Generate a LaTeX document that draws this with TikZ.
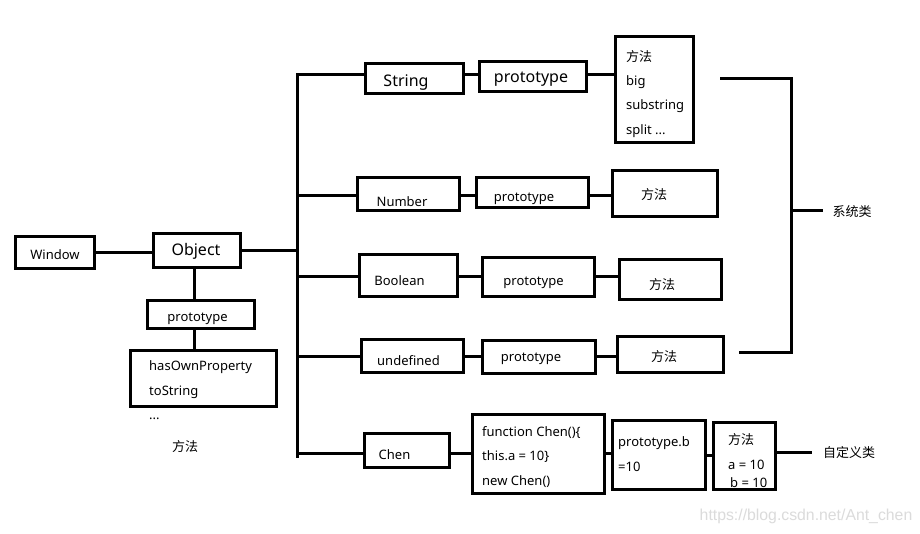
\documentclass[tikz,border=0pt]{standalone}
\usepackage{fontspec}
\setmainfont{Noto Sans}
\newfontfamily\cjk{Noto Sans CJK SC}
\newfontfamily\wmfont{Liberation Sans}
\begin{document}
\begin{tikzpicture}[x=1pt,y=-1pt,
  bx/.style 2 args={draw, line width=3pt, minimum width=#1pt, minimum height=#2pt, inner sep=0pt},
  ln/.style={line width=3pt},
  t/.style={inner sep=0pt, yshift=-1.5pt, font=\fontsize{13}{15}\selectfont},
  tl/.style={t, anchor=west},
  tb/.style={inner sep=0pt, yshift=-1.5pt, font=\fontsize{16}{18}\selectfont},
  ct/.style={inner sep=0pt, yshift=-1pt, font=\cjk\fontsize{13}{15}\selectfont},
  ctl/.style={ct, anchor=west}]
\useasboundingbox (0,0) rectangle (920,534);
\fill[white] (0,0) rectangle (920,534);

% boxes
\node[bx={79}{32}]  (win)    at (54.5,253) {};
\node[bx={87}{34}]  (obj)    at (196.5,251) {};
\node[bx={107}{27}] (oproto) at (200.5,314.5) {};
\node[bx={146}{56}] (omb)    at (203,378) {};

\node[bx={98}{30}]  (str)    at (414,79) {};
\node[bx={107}{30}] (sproto) at (532.5,77) {};
\node[bx={78}{106}] (smb)    at (654,90) {};

\node[bx={102}{33}] (num)    at (408,194.5) {};
\node[bx={112}{30}] (nproto) at (532,193) {};
\node[bx={105}{46}] (nmb)    at (664.5,194) {};

\node[bx={98}{42}]  (bool)   at (408,276) {};
\node[bx={112}{39}] (bproto) at (538,277.5) {};
\node[bx={102}{40}] (bmb)    at (670,280) {};

\node[bx={102}{33}] (und)    at (412,355.5) {};
\node[bx={113}{33}] (uproto) at (538.5,356.5) {};
\node[bx={106}{36}] (umb)    at (670,354) {};

\node[bx={85}{34}]  (chen)   at (406.5,450) {};
\node[bx={132}{79}] (fn)     at (538,453.5) {};
\node[bx={93}{69}]  (pb)     at (658.5,454.5) {};
\node[bx={62}{67}]  (cm)     at (744,455.5) {};

% texts
\node[t]  (twin)  at (55,253) {Window};
\node[tb] (tobj)  at (196,250) {Object};
\node[t]  (top)   at (197.5,317) {prototype};
\node[tl] (th1)   at (149,366) {hasOwnProperty};
\node[tl] (th2)   at (149,391) {toString};
\node[tl] (th3)   at (149,417) {...};
\node[ct] (th4)   at (185,446) {方法};

\node[tb] (tstr)  at (406,81) {String};
\node[tb] (tsp)   at (531,78) {prototype};
\node[ctl] (ts1)  at (626,56) {方法};
\node[tl] (ts2)   at (626,81) {big};
\node[tl] (ts3)   at (626,105) {substring};
\node[tl] (ts4)   at (626,130) {split ...};

\node[t]  (tnum)  at (402,200) {Number};
\node[t]  (tnp)   at (524,197) {prototype};
\node[ct] (tnm)   at (654,194) {方法};

\node[t]  (tbool) at (399.5,279) {Boolean};
\node[t]  (tbp)   at (533.5,281) {prototype};
\node[ct] (tbm)   at (662,284) {方法};

\node[t]  (tund)  at (408.5,359) {undefined};
\node[t]  (tup)   at (531,357) {prototype};
\node[ct] (tum)   at (664,356) {方法};

\node[t]  (tchen) at (394.5,453) {Chen};
\node[tl] (tf1)   at (482,431) {function Chen()\{};
\node[tl] (tf2)   at (482,455) {this.a = 10\}};
\node[tl] (tf3)   at (482,480) {new Chen()};
\node[tl] (tpb1)  at (618,442) {prototype.b};
\node[tl] (tpb2)  at (618,465) {=10};
\node[ctl] (tcm1) at (728,439) {方法};
\node[tl] (tcm2)  at (728,463) {a = 10};
\node[tl] (tcm3)  at (730,481) {b = 10};

\node[ct] (sys)   at (852,211) {系统类};
\node[ct] (cust)  at (849,452) {自定义类};

\node[inner sep=0pt, text=black!14, font=\wmfont\fontsize{15.8}{18}\selectfont] (wm) at (806,516) {https://blog.csdn.net/Ant\_chen};

% levels
\coordinate (tTop) at (297,73.5);
\coordinate (tBot) at (297,458);
\coordinate (yS) at (0,75);
\coordinate (yN) at (0,196);
\coordinate (yB) at (0,277);
\coordinate (yU) at (0,356);
\coordinate (yC) at (0,453);

% connectors
\draw[ln] (win.east) -- (win.east -| obj.west);
\draw[ln] (obj.east) -- (obj.east -| tTop);
\draw[ln] (obj.south -| 194,0) -- (oproto.north -| 194,0);
\draw[ln] (oproto.south -| 194,0) -- (omb.north -| 194,0);
\draw[ln] (tTop) -- (tBot);

\draw[ln] (tTop |- yS) -- (str.west |- yS);
\draw[ln] (str.east |- yS) -- (sproto.west |- yS);
\draw[ln] (sproto.east |- yS) -- (smb.west |- yS);

\draw[ln] (tTop |- yN) -- (num.west |- yN);
\draw[ln] (num.east |- yN) -- (nproto.west |- yN);
\draw[ln] (nproto.east |- yN) -- (nmb.west |- yN);

\draw[ln] (tTop |- yB) -- (bool.west |- yB);
\draw[ln] (bool.east |- yB) -- (bproto.west |- yB);
\draw[ln] (bproto.east |- yB) -- (bmb.west |- yB);

\draw[ln] (tTop |- yU) -- (und.west |- yU);
\draw[ln] (und.east |- yU) -- (uproto.west |- yU);
\draw[ln] (uproto.east |- yU) -- (umb.west |- yU);

\draw[ln] (tTop |- yC) -- (chen.west |- yC);
\draw[ln] (chen.east |- yC) -- (fn.west |- yC);
\draw[ln] (fn.east |- yC) -- (pb.west |- yC);
\draw[ln] (pb.east |- 0,455) -- (cm.west |- 0,455);
\coordinate (ce) at (812,452);
\draw[ln] (cm.east |- ce) -- (ce);

% system bracket
\coordinate (s1) at (720,79);
\coordinate (s2) at (791,79);
\coordinate (s3) at (791,352);
\coordinate (s4) at (739,352);
\coordinate (s5) at (791,211);
\coordinate (s6) at (823,211);
\draw[ln] (s1) -- (s2) -- (s3) -- (s4);
\draw[ln] (s5) -- (s6);
\end{tikzpicture}
\end{document}
